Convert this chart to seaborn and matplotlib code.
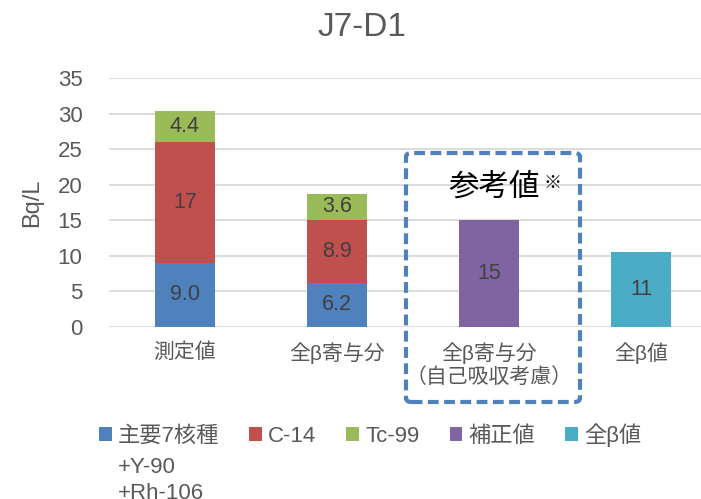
import numpy as np
import pandas as pd
import matplotlib
matplotlib.use('Agg')
import matplotlib.pyplot as plt
import seaborn as sns
from matplotlib.patches import FancyBboxPatch, Patch

# Data
categories = ['測定値', '全β寄与分', '全β寄与分\n（自己吸収考慮）', '全β値']
series_names = ['主要7核種', 'C-14', 'Tc-99', '補正値', '全β値']
first_label_extra = ['+Y-90', '+Rh-106']
main7 = [9.0, 6.2, 0, 0]
c14 = [17.0, 8.9, 0, 0]
tc99 = [4.4, 3.6, 0, 0]
corrected = [0, 0, 15.0, 0]
total_beta = [0, 0, 0, 10.6]
colors = ['#4F81BD', '#C0504D', '#9BBB59', '#8064A2', '#4BACC6']

sns.set_theme(style='white')
plt.rcParams['font.family'] = ['Liberation Sans', 'Noto Sans CJK JP', 'DejaVu Sans']

df = pd.DataFrame({'cat': categories, 'main7': main7, 'c14': c14, 'tc99': tc99,
                   'corr': corrected, 'beta': total_beta})
df['cum1'] = df['main7']
df['cum2'] = df['cum1'] + df['c14']
df['cum3'] = df['cum2'] + df['tc99']

fig = plt.figure(figsize=(7.01, 4.99), dpi=100)
ax = fig.add_axes([109 / 701, 1 - 327 / 499, (717 - 109) / 701, (327 - 78) / 499])

w = 0.395
# draw stacks from the top down so lower layers cover the upper ones
for col, c in [('cum3', colors[2]), ('cum2', colors[1]), ('cum1', colors[0]),
               ('corr', colors[3]), ('beta', colors[4])]:
    sns.barplot(data=df, x='cat', y=col, color=c, width=w, ax=ax,
                saturation=1, order=categories, linewidth=0)

def fmt(v):
    return f'{v:.1f}' if v < 10 else f'{v:.0f}'

# segment labels
for i in range(len(categories)):
    base = 0
    for vals in [main7, c14, tc99, corrected, total_beta]:
        v = vals[i]
        if v > 0:
            ax.text(i, base + v / 2, fmt(v), ha='center', va='center',
                    fontsize=15.5, color='#404040')
            base += v

ax.set_ylim(0, 35)
ax.set_xlim(-0.5, 3.5)
ax.set_yticks(np.arange(0, 36, 5))
ax.yaxis.grid(True, color='#D9D9D9', linewidth=1.3)
ax.set_axisbelow(True)
for s in ax.spines.values():
    s.set_visible(False)
ax.tick_params(axis='y', colors='#595959', labelsize=16, length=0, pad=19)
ax.tick_params(axis='x', colors='#595959', labelsize=15, length=0, pad=11)
for t in ax.get_xticklabels():
    t.set_linespacing(1.2)
ax.set_xlabel('')
ax.set_ylabel('Bq/L', fontsize=17, color='#595959')
ax.yaxis.set_label_coords(-0.108, 0.5)

fig.text(362 / 701, 1 - 27 / 499, 'J7-D1', ha='center', va='center',
         fontsize=24, color='#595959')

# dashed reference box
box = FancyBboxPatch((406 / 701, 1 - 402 / 499), (580 - 406) / 701, (402 - 153) / 499,
                     boxstyle='round,pad=0,rounding_size=0.008',
                     transform=fig.transFigure, fill=False, edgecolor='#4F81BD',
                     linewidth=3, linestyle=(0, (2.6, 1.3)), clip_on=False)
fig.add_artist(box)
fig.text(494 / 701, 1 - 188 / 499, '参考値', ha='center', va='center',
         fontsize=22, color='black')
fig.text(543 / 701, 1 - 184 / 499, '※', ha='left', va='center',
         fontsize=13, color='black')

handles = [Patch(facecolor=c, edgecolor='none') for c in colors]
leg = fig.legend(handles, series_names, loc='upper left', ncol=5,
                 bbox_to_anchor=(99 / 701, 1 - 423 / 499), frameon=False,
                 fontsize=16, handlelength=0.58, handleheight=0.58,
                 handletextpad=0.27, columnspacing=1.35, borderpad=0,
                 borderaxespad=0)
for t in leg.get_texts():
    t.set_color('#595959')

# continuation lines of the first legend entry
fig.canvas.draw()
bb = leg.get_texts()[0].get_window_extent()
yc = (bb.y0 + bb.y1) / 2
for k, line in enumerate(first_label_extra):
    fig.text(bb.x0 / 701, (yc - 31 - 26 * k) / 499, line, ha='left', va='center',
             fontsize=16, color='#595959')

fig.savefig('out.png', dpi=100)
